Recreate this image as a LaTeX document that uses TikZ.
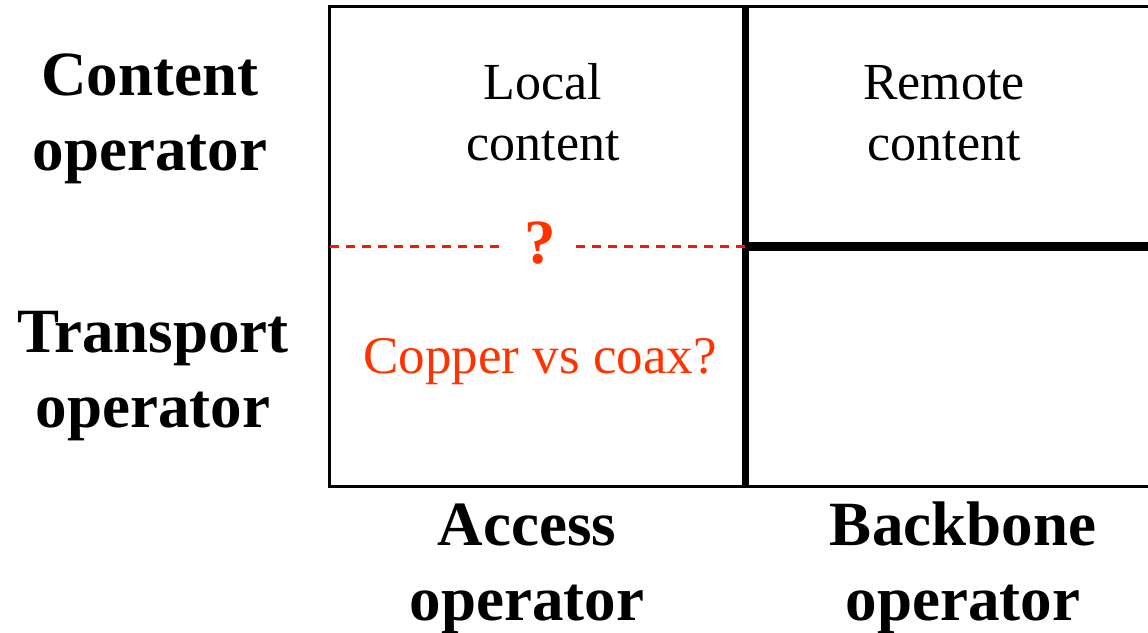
\documentclass[tikz,border=0pt]{standalone}
\usepackage{fontspec}
\setmainfont{Liberation Serif}
\definecolor{alert}{HTML}{FF3300}
\definecolor{alertline}{HTML}{FF1408}
\begin{document}
\begin{tikzpicture}[x=1pt,y=-1pt,
  axislabel/.style={font=\fontsize{63}{75}\selectfont\bfseries, align=center, anchor=base, inner sep=0pt},
  celllabel/.style={font=\fontsize{52}{61}\selectfont, align=center, anchor=base, inner sep=0pt},
  border/.style={line width=2.7pt, line join=miter},
  divider/.style={line width=7.5pt},
  splitline/.style={line width=2.8pt, alertline, dash pattern=on 9pt off 7pt}
]
\useasboundingbox (0,0) rectangle (1148,632);

% grid corners and dividers
\coordinate (tl) at (329.5,6.3);
\coordinate (tr) at (1148,6.3);
\coordinate (bl) at (329.5,486.3);
\coordinate (br) at (1148,486.3);
\coordinate (mt) at (745.3,6.3);
\coordinate (mb) at (745.3,486.3);
\coordinate (mm) at (745.3,246.5);
\coordinate (mr) at (1148,246.5);
\coordinate (dl) at (329.5,246.5);

\draw[border] (tr) -- (tl) -- (bl) -- (br);
\draw[divider] (mt) -- (mb);
\draw[divider, line width=8.5pt] (mm) -- (mr);

% open question between the two access layers
\node[font=\fontsize{63}{75}\selectfont\bfseries, text=alert, anchor=base,
      inner xsep=20pt, inner ysep=0pt] (q) at (540,263) {?};
\draw[splitline] (dl) -- (dl -| q.west);
\draw[splitline] (dl -| q.east) -- (mm);

% cell contents (anchored on the baseline of the last line)
\node[celllabel] (local) at (543,160) {Local\\content};
\node[celllabel] (remote) at (944,160) {Remote\\content};
\node[celllabel, font=\fontsize{53}{61}\selectfont, text=alert] (copper) at (540,373) {Copper vs coax?};

% axis labels
\node[axislabel] (content) at (150,170) {Content\\operator};
\node[axislabel] (transport) at (153,427) {Transport\\operator};
\node[axislabel] (access) at (527,620) {Access\\operator};
\node[axislabel] (backbone) at (963,620) {Backbone\\operator};
\end{tikzpicture}
\end{document}
